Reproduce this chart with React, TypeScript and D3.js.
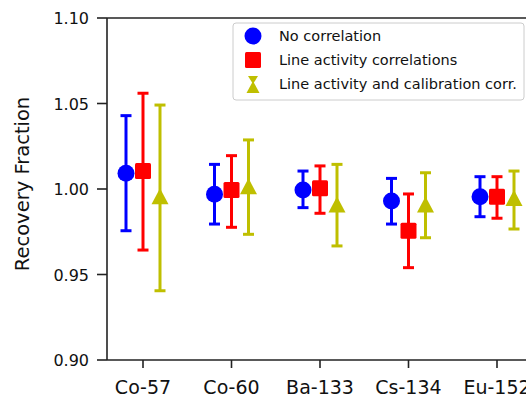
import {useEffect, useRef} from "react";
import * as d3 from "d3";

const categories = ["Co-57", "Co-60", "Ba-133", "Cs-134", "Eu-152"];
const seriesNames = ["No correlation", "Line activity correlations", "Line activity and calibration corr."];
const seriesColors = ["#0000ff", "#ff0000", "#bfbf00"];

// value, lower end, upper end for each category
const noCorrValue = [1.0092, 0.9969, 0.9994, 0.9930, 0.9955];
const noCorrLow = [0.9756, 0.9795, 0.9891, 0.9795, 0.9838];
const noCorrHigh = [1.0429, 1.0144, 1.0105, 1.0062, 1.0072];

const lineCorrValue = [1.0105, 0.9994, 1.0004, 0.9756, 0.9955];
const lineCorrLow = [0.9643, 0.9776, 0.9858, 0.9540, 0.9829];
const lineCorrHigh = [1.0560, 1.0195, 1.0135, 0.9971, 1.0072];

const calCorrValue = [0.9946, 1.0004, 0.9897, 0.9897, 0.9936];
const calCorrLow = [0.9405, 0.9735, 0.9667, 0.9715, 0.9766];
const calCorrHigh = [1.0491, 1.0287, 1.0144, 1.0095, 1.0105];

const yTicks = [0.90, 0.95, 1.00, 1.05, 1.10];

function App() {
    const ref = useRef(null);

    useEffect(() => {
        const svg = d3.select(ref.current);
        svg.selectAll("*").remove();

        const left = 107, top = 18, bottom = 360, width = 526;
        const font = "DejaVu Sans, sans-serif";

        const x = d3.scalePoint().domain(categories).range([143, 497]);
        const y = d3.scaleLinear().domain([0.90, 1.10]).range([bottom, top]);
        const offsets = [-17, 0, 17];

        const series = [
            {value: noCorrValue, low: noCorrLow, high: noCorrHigh},
            {value: lineCorrValue, low: lineCorrLow, high: lineCorrHigh},
            {value: calCorrValue, low: calCorrLow, high: calCorrHigh}
        ];

        // spines
        svg.append("line").attr("x1", left).attr("x2", width).attr("y1", top).attr("y2", top)
            .attr("stroke", "#222").attr("stroke-width", 1.6);
        svg.append("line").attr("x1", left).attr("x2", width).attr("y1", bottom).attr("y2", bottom)
            .attr("stroke", "#222").attr("stroke-width", 1.6);
        svg.append("line").attr("x1", left).attr("x2", left).attr("y1", top).attr("y2", bottom)
            .attr("stroke", "#222").attr("stroke-width", 1.6);

        // y ticks
        yTicks.forEach(t => {
            svg.append("line").attr("x1", left - 10).attr("x2", left).attr("y1", y(t)).attr("y2", y(t))
                .attr("stroke", "#222").attr("stroke-width", 1.6);
            svg.append("text").attr("x", left - 18).attr("y", y(t) + 6)
                .attr("text-anchor", "end").attr("font-family", font).attr("font-size", 16)
                .attr("fill", "#111").text(t.toFixed(2));
        });

        // x ticks
        categories.forEach(c => {
            svg.append("line").attr("x1", x(c)).attr("x2", x(c)).attr("y1", bottom).attr("y2", bottom + 8)
                .attr("stroke", "#222").attr("stroke-width", 1.6);
            svg.append("text").attr("x", x(c)).attr("y", 394)
                .attr("text-anchor", "middle").attr("font-family", font).attr("font-size", 19)
                .attr("fill", "#111").text(c);
        });

        svg.append("text").attr("transform", `translate(29,184) rotate(-90)`)
            .attr("text-anchor", "middle").attr("font-family", font).attr("font-size", 19.5)
            .attr("fill", "#111").text("Recovery Fraction");

        const marker = (g, i, cx, cy) => {
            const col = seriesColors[i];
            if (i === 0) {
                g.append("circle").attr("cx", cx).attr("cy", cy).attr("r", 8.5).attr("fill", col);
            } else if (i === 1) {
                g.append("rect").attr("x", cx - 8).attr("y", cy - 8).attr("width", 16).attr("height", 16)
                    .attr("rx", 1.5).attr("fill", col);
            } else {
                g.append("path").attr("d", `M${cx},${cy - 10}L${cx + 8.5},${cy + 6}L${cx - 8.5},${cy + 6}Z`)
                    .attr("fill", col);
            }
        };

        // error bars and markers
        series.forEach((s, i) => {
            const g = svg.append("g");
            const col = seriesColors[i];
            categories.forEach((c, j) => {
                const cx = x(c) + offsets[i];
                g.append("line").attr("x1", cx).attr("x2", cx).attr("y1", y(s.low[j])).attr("y2", y(s.high[j]))
                    .attr("stroke", col).attr("stroke-width", 3);
                [s.low[j], s.high[j]].forEach(v => {
                    g.append("line").attr("x1", cx - 5.5).attr("x2", cx + 5.5).attr("y1", y(v)).attr("y2", y(v))
                        .attr("stroke", col).attr("stroke-width", 3);
                });
                marker(g, i, cx, y(s.value[j]));
            });
        });

        // legend
        const lg = svg.append("g");
        lg.append("rect").attr("x", 233).attr("y", 23).attr("width", 291).attr("height", 77)
            .attr("rx", 3).attr("fill", "white").attr("stroke", "#ccc");
        seriesNames.forEach((n, i) => {
            const ly = 36 + i * 24;
            if (i === 2) {
                lg.append("path").attr("d", `M248,${ly - 8}L258,${ly - 8}L253,${ly}Z`).attr("fill", seriesColors[i]);
                lg.append("path").attr("d", `M253,${ly - 3}L259.5,${ly + 9}L246.5,${ly + 9}Z`).attr("fill", seriesColors[i]);
            } else {
                marker(lg, i, 253, ly);
            }
            lg.append("text").attr("x", 279).attr("y", ly + 5)
                .attr("font-family", font).attr("font-size", 14.5).attr("fill", "#111").text(n);
        });
    }, []);

    return <svg ref={ref} width={526} height={398}
                style={{position: "absolute", left: 0, top: 0, background: "white"}}></svg>;
}

export default App;
